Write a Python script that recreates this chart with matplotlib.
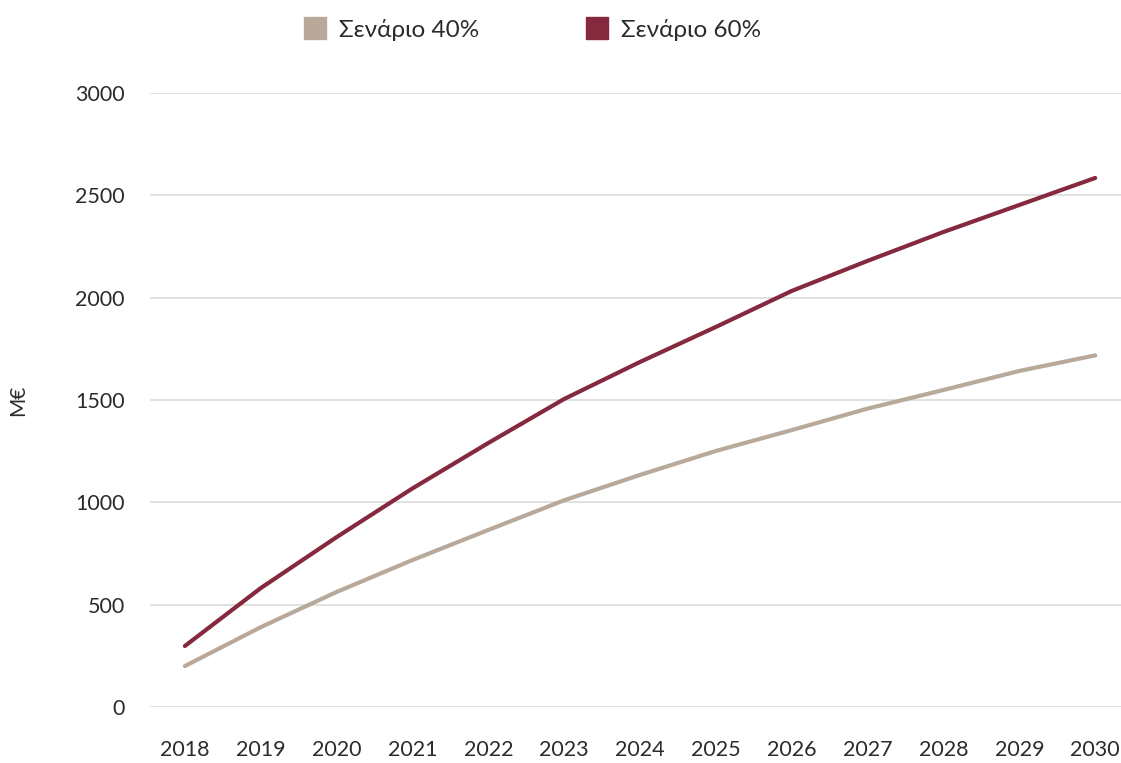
import matplotlib.pyplot as plt
from matplotlib.lines import Line2D

# data (M€)
years = [2018, 2019, 2020, 2021, 2022, 2023, 2024, 2025, 2026, 2027, 2028, 2029, 2030]
scenario_40 = [200, 390, 562, 718, 865, 1010, 1134, 1251, 1353, 1458, 1549, 1642, 1718]
scenario_60 = [298, 581, 830, 1068, 1290, 1505, 1686, 1857, 2033, 2180, 2321, 2453, 2585]
y_ticks = [0, 500, 1000, 1500, 2000, 2500, 3000]

col_40 = '#b9a99b'
col_60 = '#85293f'
txt = '#2b2b2b'

plt.rcParams['font.family'] = ['Lato', 'DejaVu Sans']

fig = plt.figure(figsize=(11.21, 7.63), dpi=100)
ax = fig.add_axes([0.1338, 0.0734, 0.8662, 0.8047])

ax.plot(years, scenario_40, color=col_40, lw=3, solid_capstyle='round')
ax.plot(years, scenario_60, color=col_60, lw=3, solid_capstyle='round')

ax.set_ylim(0, 3000)
ax.set_xlim(2017.54, 2030.34)
ax.set_yticks(y_ticks)
ax.set_xticks(years)
ax.grid(axis='y', color='#dcdcdc', lw=1.2)
ax.set_axisbelow(True)
for s in ax.spines.values():
    s.set_visible(False)
ax.tick_params(axis='both', length=0, labelsize=15.5, labelcolor=txt)
ax.tick_params(axis='y', pad=18)
ax.tick_params(axis='x', pad=24)
ax.set_ylabel('M€', fontsize=15, color=txt, labelpad=34)

handles = [Line2D([], [], marker='s', ls='none', markersize=16, color=col_40),
           Line2D([], [], marker='s', ls='none', markersize=16, color=col_60)]
fig.legend(handles, ['Σενάριο 40%', 'Σενάριο 60%'], loc='center', ncol=2,
           bbox_to_anchor=(0.474, 0.961), frameon=False, fontsize=17.5,
           labelcolor=txt, columnspacing=4.3, handletextpad=0.45, handlelength=1.1)

fig.savefig('out.png', dpi=100)
